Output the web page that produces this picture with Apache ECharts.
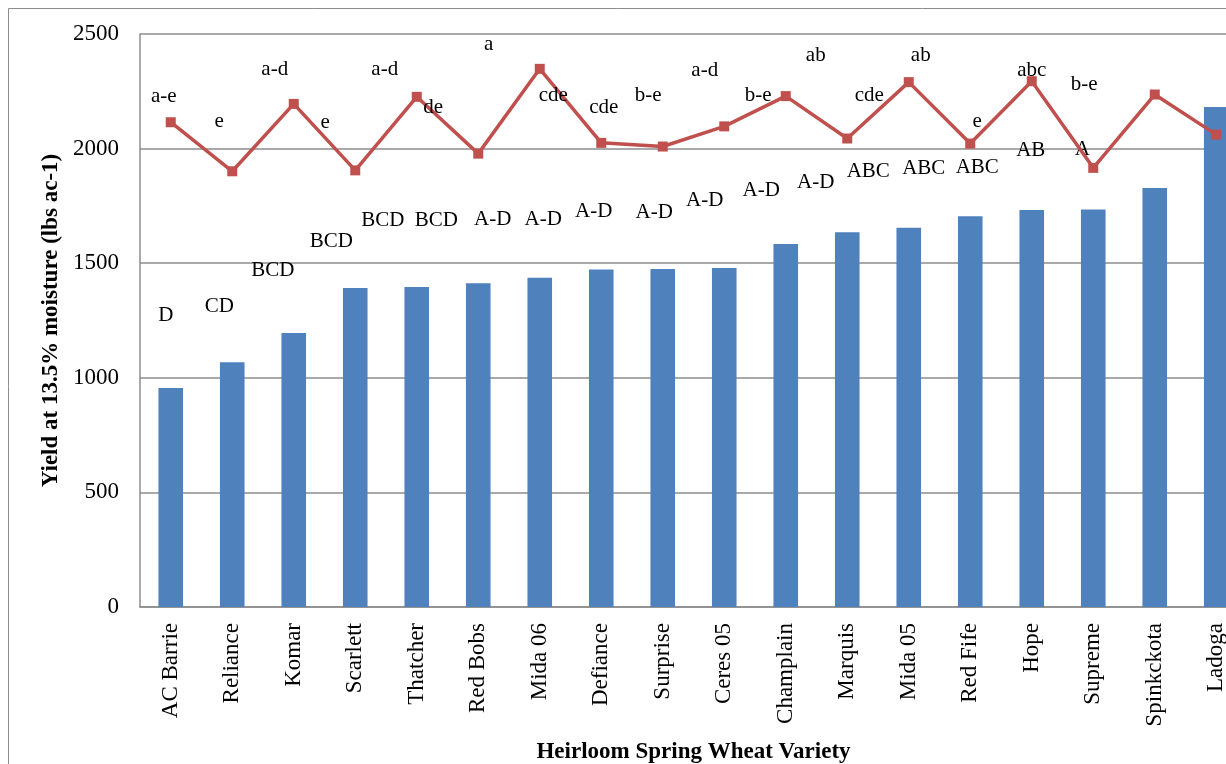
<!DOCTYPE html>
<html>
<head>
<meta charset="utf-8">
<script src="https://cdn.jsdelivr.net/npm/echarts@6/dist/echarts.min.js"></script>
<style>
  html, body { margin: 0; padding: 0; background: #fff; overflow: hidden; }
  #chart { width: 1226px; height: 764px; }
</style>
</head>
<body>
<div id="chart"></div>
<script>
// ---- data ----
const categories = ['AC Barrie', 'Reliance', 'Komar', 'Scarlett', 'Thatcher', 'Red Bobs', 'Mida 06', 'Defiance', 'Surprise', 'Ceres 05', 'Champlain', 'Marquis', 'Mida 05', 'Red Fife', 'Hope', 'Supreme', 'Spinkckota', 'Ladoga'];
const barYield = [955, 1068, 1195, 1392, 1396, 1413, 1437, 1472, 1475, 1479, 1584, 1635, 1655, 1705, 1732, 1734, 1828, 2182];
const lineYield = [2115, 1901, 2195, 1905, 2226, 1978, 2348, 2025, 2009, 2097, 2229, 2044, 2290, 2022, 2294, 1916, 2236, 2061];
const barLetters = ['D', 'CD', 'BCD', 'BCD', 'BCD', 'BCD', 'A-D', 'A-D', 'A-D', 'A-D', 'A-D', 'A-D', 'A-D', 'ABC', 'ABC', 'ABC', 'AB', 'A'];
const lineLetters = ['a-e', 'e', 'a-d', 'e', 'a-d', 'de', 'a', 'cde', 'cde', 'b-e', 'a-d', 'b-e', 'ab', 'cde', 'ab', 'e', 'abc', 'b-e'];
const yTicks = { min: 0, max: 2500, interval: 500 };

// ---- layout only: annotation placement relative to each mark (px) ----
const barLabelOffset = [[-5,-73],[-13,-56],[-21,-63],[-24,-46],[-34,-67],[-42,-63],[-47,-58],[-58,-50],[-69,-57],[-70,-56],[-81,-43],[-86,-42],[-93,-45],[-102,-45],[-108,-42],[-116,-42],[-124,-38],[-134,43]];
const lineLabelOffset = [[-7,-26],[-13,-50],[-19,-34],[-30,-48],[-32,-27],[-45,-46],[-51,-24],[-48,-47],[-59,-39],[-76,-31],[-81,-26],[-89,-43],[-93,-27],[-101,-48],[-111,-26],[-116,-46],[-123,-24],[-132,-50]];

const FONT = '"Liberation Serif", "Times New Roman", serif';
const ANN = 21;

const chart = echarts.init(document.getElementById('chart'), null, { renderer: 'canvas' });

const barData = barYield.map((v, i) => ({
  value: v,
  label: {
    show: true,
    formatter: barLetters[i],
    position: 'top',
    distance: 0,
    offset: [barLabelOffset[i][0], barLabelOffset[i][1] + ANN / 2]
  }
}));

const lineData = lineYield.map((v, i) => ({
  value: v,
  label: {
    show: true,
    formatter: lineLetters[i],
    position: 'inside',
    offset: lineLabelOffset[i]
  }
}));

chart.setOption({
  animation: false,
  backgroundColor: '#ffffff',
  textStyle: { fontFamily: FONT },
  graphic: [{
    type: 'rect',
    shape: { x: 8.5, y: 8.5, width: 1400, height: 900 },
    style: { fill: 'none', stroke: '#8c8c8c', lineWidth: 1 },
    z: -10
  }],
  grid: { left: 140, top: 34, width: 1107, height: 573, containLabel: false, outerBoundsMode: 'none' },
  xAxis: {
    type: 'category',
    data: categories,
    name: 'Heirloom Spring Wheat Variety',
    nameLocation: 'middle',
    nameGap: 134,
    nameTextStyle: { fontFamily: FONT, fontSize: 23, fontWeight: 'bold', color: '#000' },
    axisLine: { show: true, lineStyle: { color: '#8c8c8c', width: 1.5 } },
    axisTick: { show: false },
    axisLabel: { rotate: 90, fontFamily: FONT, fontSize: 23, color: '#000', margin: 16, interval: 0 }
  },
  yAxis: {
    type: 'value',
    min: yTicks.min,
    max: yTicks.max,
    interval: yTicks.interval,
    name: 'Yield at 13.5% moisture (lbs ac-1)',
    nameLocation: 'middle',
    nameGap: 75,
    nameRotate: 90,
    nameTextStyle: { fontFamily: FONT, fontSize: 23, fontWeight: 'bold', color: '#000' },
    axisLine: { show: true, lineStyle: { color: '#8c8c8c', width: 1.5 } },
    axisTick: { show: false },
    splitLine: { show: true, lineStyle: { color: '#8c8c8c', width: 1.5 } },
    axisLabel: { fontFamily: FONT, fontSize: 23, color: '#000', margin: 21, formatter: v => String(v) }
  },
  series: [
    {
      type: 'bar',
      data: barData,
      barCategoryGap: '60%',
      itemStyle: { color: '#4F81BD' },
      label: { fontFamily: FONT, fontSize: ANN, color: '#000' },
      z: 2
    },
    {
      type: 'line',
      data: lineData,
      symbol: 'rect',
      symbolSize: 10,
      lineStyle: { color: '#C0504D', width: 3.5 },
      itemStyle: { color: '#C0504D' },
      label: { fontFamily: FONT, fontSize: ANN, color: '#000' },
      z: 3
    }
  ]
});
</script>
</body>
</html>
